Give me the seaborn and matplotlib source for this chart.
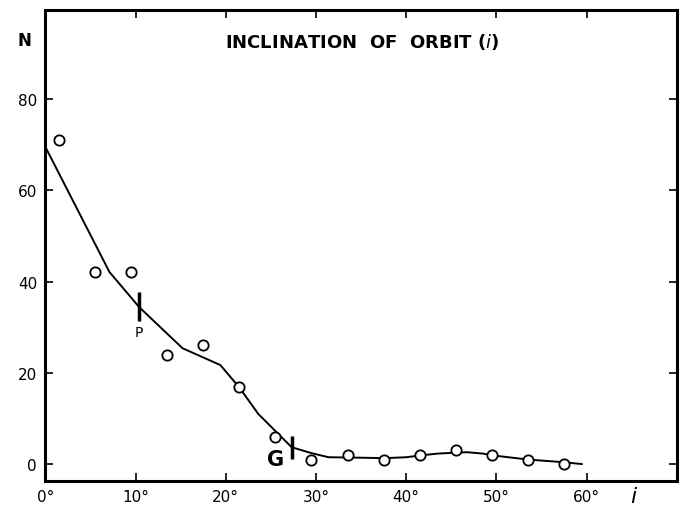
import matplotlib
matplotlib.use("Agg")
import matplotlib.pyplot as plt
import seaborn as sns
import pandas as pd

# Observed counts per 4-degree inclination bin
bin_centers = [1.5, 5.5, 9.5, 13.5, 17.5, 21.5, 25.5, 29.5, 33.5, 37.5, 41.5, 45.5, 49.5, 53.5, 57.5]
counts = [71, 42, 42, 24, 26, 17, 6, 1, 2, 1, 2, 3, 2, 1, 0]

# Smoothed curve
curve_x = [0, 7.1, 10.4, 15.2, 19.4, 21.5, 23.6, 27.3, 29.5, 31.4, 35, 37.6, 40, 41.6, 43.5, 45.5, 46.8, 48.5, 49.6, 53.5, 57.5, 59.5]
curve_y = [69.5, 42.1, 34.4, 25.4, 21.7, 16.8, 11.0, 3.7, 2.4, 1.5, 1.4, 1.3, 1.5, 1.9, 2.3, 2.5, 2.6, 2.3, 1.9, 1.0, 0.4, 0.0]

x_ticks = [0, 10, 20, 30, 40, 50, 60]
x_tick_labels = ["0°", "10°", "20°", "30°", "40°", "50°", "60°"]
y_ticks = [0, 20, 40, 60, 80]
y_tick_labels = ["0", "20", "40", "60", "80"]

# Markers P and G on the curve
marker_names = ["P", "G"]
marker_x = [10.37, 27.3]
marker_y0 = [31.3, 1.1]
marker_y1 = [37.7, 6.2]

sns.set_theme(style="white")
plt.rcParams['font.family'] = ['DejaVu Sans']
plt.rcParams['text.color'] = 'black'

fig = plt.figure(figsize=(6.88, 5.06), dpi=100)
ax = fig.add_axes([0.066, 0.0484, 0.9176, 0.9296])

df_curve = pd.DataFrame({"x": curve_x, "y": curve_y})
df_pts = pd.DataFrame({"x": bin_centers, "y": counts})

sns.lineplot(data=df_curve, x="x", y="y", sort=False, color="black", linewidth=1.4, ax=ax)
sns.scatterplot(data=df_pts, x="x", y="y", ax=ax, s=55, facecolor="white",
                edgecolor="black", linewidth=1.3, zorder=3)

for name, mx, y0, y1 in zip(marker_names, marker_x, marker_y0, marker_y1):
    ax.plot([mx, mx], [y0, y1], color="black", linewidth=2.5, solid_capstyle="butt")

ax.text(10.37, 28.9, "P", ha="center", va="center", fontsize=10, color="black")
ax.text(25.5, 1.1, "G", ha="center", va="center", fontsize=15, fontweight="bold", color="black")

ax.set_xlim(0, 70)
ax.set_ylim(-3.6, 99.5)
ax.set_xticks(x_ticks)
ax.set_xticklabels(x_tick_labels)
ax.set_yticks(y_ticks)
ax.set_yticklabels(y_tick_labels)
ax.set_xlabel("")
ax.set_ylabel("")

ax.tick_params(axis="both", which="both", direction="in", length=6, width=1.2,
               top=True, right=True, bottom=True, left=True,
               labelsize=11, colors="black", pad=6)

for sp in ax.spines.values():
    sp.set_color("black")
    sp.set_linewidth(2.2)
    sp.set_visible(True)

fig.text(361.7 / 688, 1 - 42 / 506, "INCLINATION  OF  ORBIT ($i$)", ha="center", va="center",
         fontsize=13, fontweight="bold", color="black")
fig.text(24 / 688, 1 - 41 / 506, "N", ha="center", va="center", fontsize=12, fontweight="bold", color="black")
fig.text(634 / 688, 1 - 497 / 506, "$i$", ha="center", va="center", fontsize=16, color="black")

fig.savefig("out.png", dpi=100)
